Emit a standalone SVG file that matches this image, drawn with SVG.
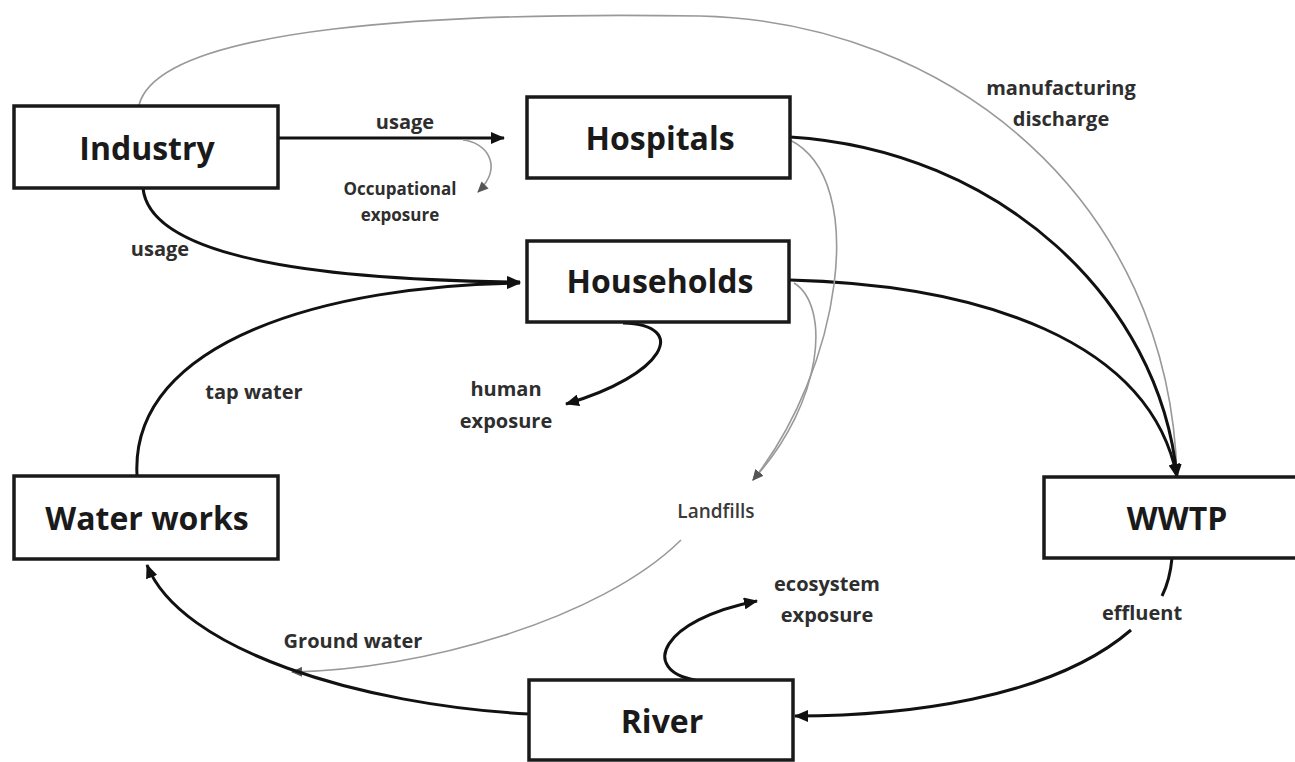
<svg xmlns="http://www.w3.org/2000/svg" width="1295" height="762" viewBox="0 0 1295 762">
<defs>
<style>
.box{fill:#fff;stroke:#1a1a1a;stroke-width:3.5}
.nt{font-family:"Open Sans",Lato,"Liberation Sans",sans-serif;font-weight:bold;font-size:32px;fill:#1a1a1a;text-anchor:middle}
.lb{font-family:"Open Sans",Lato,"Liberation Sans",sans-serif;font-weight:bold;font-size:20px;fill:#2e2e2e;text-anchor:middle}
.sm{font-size:17px}
.lf{font-weight:600;font-size:19px;fill:#3a3a3a}
.k{fill:none;stroke:#111;stroke-width:3}
.g{fill:none;stroke:#999;stroke-width:1.6}
</style>
<marker id="ak" markerUnits="userSpaceOnUse" markerWidth="14" markerHeight="12" refX="13" refY="6" orient="auto"><path d="M0,0 L14,6 L0,12 Z" fill="#111"/></marker>
<marker id="ag" markerUnits="userSpaceOnUse" markerWidth="11" markerHeight="10" refX="10" refY="5" orient="auto"><path d="M0,0 L11,5 L0,10 Z" fill="#555"/></marker>
</defs>
<rect width="1295" height="762" fill="#fff"/>
<g id="connectors">
<path class="g" d="M139,105 C160,25 450,12 700,16 C950,22 1170,200 1177,477"/>
<path class="k" d="M278,138 L504,138" marker-end="url(#ak)"/>
<path class="g" d="M463,140 C485,142 505,165 478,192" marker-end="url(#ag)"/>
<path class="k" d="M143,188 C150,260 330,280 520,282" marker-end="url(#ak)"/>
<path class="k" d="M137,475 C130,340 330,285 520,283" marker-end="url(#ak)"/>
<path class="k" d="M790,137 C1000,150 1160,300 1177,477" marker-end="url(#ak)"/>
<path class="k" d="M790,280 C980,285 1150,340 1177,477" marker-end="url(#ak)"/>
<path class="g" d="M790,140 C870,180 840,370 753,480" marker-end="url(#ag)"/>
<path class="g" d="M794,283 C830,305 825,400 753,480" marker-end="url(#ag)"/>
<path class="k" d="M623,323 C690,325 665,375 566,404" marker-end="url(#ak)"/>
<path class="g" d="M681,540 C600,620 420,670 292,672" marker-end="url(#ag)"/>
<path class="k" d="M529,714 C360,705 180,650 147,565" marker-end="url(#ak)"/>
<path class="k" d="M1172,558 Q1170,580 1162,596"/>
<path class="k" d="M1131,630 C1050,700 900,716 795,716" marker-end="url(#ak)"/>
<path class="k" d="M695,680 C640,670 660,620 757,601" marker-end="url(#ak)"/>
</g>
<g id="industry"><rect class="box" x="14" y="106" width="264" height="82"/><text class="nt" x="147" y="160">Industry</text></g>
<g id="hospitals"><rect class="box" x="527" y="97" width="263" height="81"/><text class="nt" x="660" y="150">Hospitals</text></g>
<g id="households"><rect class="box" x="527" y="241" width="262" height="81"/><text class="nt" x="660" y="293">Households</text></g>
<g id="waterworks"><rect class="box" x="14" y="476" width="264" height="83"/><text class="nt" x="147" y="530">Water works</text></g>
<g id="wwtp"><rect class="box" x="1044" y="477" width="260" height="81"/><text class="nt" x="1177" y="530">WWTP</text></g>
<g id="river"><rect class="box" x="529" y="680" width="264" height="80"/><text class="nt" x="662" y="733">River</text></g>
<g id="labels">
<text class="lb" x="405" y="129">usage</text>
<text class="lb sm" x="400" y="195">Occupational</text>
<text class="lb sm" x="400" y="221">exposure</text>
<text class="lb" x="160" y="256">usage</text>
<text class="lb" x="1061" y="95">manufacturing</text>
<text class="lb" x="1061" y="126">discharge</text>
<text class="lb" x="254" y="399">tap water</text>
<text class="lb" x="506" y="396">human</text>
<text class="lb" x="506" y="428">exposure</text>
<text class="lb lf" x="716" y="518">Landfills</text>
<text class="lb" x="353" y="648">Ground water</text>
<text class="lb" x="827" y="591">ecosystem</text>
<text class="lb" x="827" y="622">exposure</text>
<text class="lb" x="1142" y="620">effluent</text>
</g>
</svg>
